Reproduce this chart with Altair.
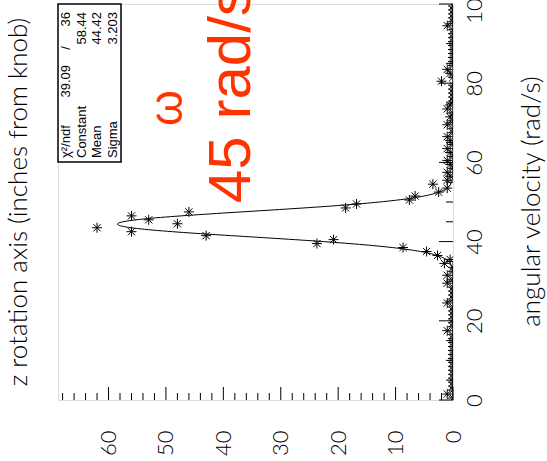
import altair as alt
import pandas as pd

# ---- data -----------------------------------------------------------------
# histogram bin centres (angular velocity, rad/s) and contents (inches from knob)
bin_centers = [i + 0.5 for i in range(100)]
bin_values = [
    0, 1, 0, 0, 0, 0, 0, 0, 0, 0,
    0, 0, 0, 0, 0, 0, 0, 1, 0, 0,
    0, 0, 0, 0, 1, 0, 0, 0, 0, 1,
    0, 1, 0, 0, 1.5, 0.5, 2.7, 4.6, 8.7, 23.7,
    20.8, 43, 56, 62, 48, 53, 56, 46, 18.7, 16.8,
    7.6, 6.6, 2.5, 1, 3.5, 1, 0.5, 1, 0, 0.5,
    1, 0, 0.5, 1, 0, 0.5, 1, 0, 0, 1,
    0, 0.5, 0, 1, 0.5, 0, 0, 0, 0, 0,
    2, 0, 0.5, 1, 0, 0, 0, 0, 0, 0,
    0, 0, 0, 0, 1, 0, 0, 0, 0, 0,
]

# gaussian fit parameters shown in the stats box
fit_const, fit_mean, fit_sigma = 58.44, 44.42, 3.203
stat_labels = ["\u03c7\u00b2/ndf", "Constant", "Mean", "Sigma"]
stat_values = ["39.09", "58.44", "44.42", "3.203"]
chi2_ndf = "36"

count_ticks_major = [0, 10, 20, 30, 40, 50, 60]
count_ticks_minor = [v for v in range(0, 69, 2) if v % 10]
vel_ticks_major = [0, 20, 40, 60, 80, 100]
vel_ticks_minor = [v for v in range(0, 101, 5) if v % 20]

title_text = "z rotation axis (inches from knob)"
xaxis_title = "angular velocity (rad/s)"
omega_text = "\u03c9"
speed_text = "45 rad/s"

# ---- chart ------------------------------------------------------------------
W, H = 395, 396
FONT = "Lato"
FW = 300
SFONT = "Liberation Sans"
RED = "#ff3300"

xscale = alt.Scale(domain=[0, 68.8], reverse=True, nice=False, zero=False)
yscale = alt.Scale(domain=[0, 100], nice=False, zero=False)

xaxis = alt.Axis(
    orient="bottom", ticks=False, tickSize=0, domain=False, grid=False,
    values=count_ticks_major, labelAngle=270, labelAlign="right",
    labelBaseline="middle", labelPadding=30, labelFontSize=22,
    labelFont=FONT, labelFontWeight=FW, labelColor="black", labelFlush=False,
    labelOverlap=False, title=None)
yaxis = alt.Axis(
    orient="right", ticks=False, tickSize=0, domain=False, grid=False,
    values=vel_ticks_major, labelAngle=270, labelAlign="center",
    labelBaseline="top", labelPadding=11, labelFontSize=22,
    labelFont=FONT, labelFontWeight=FW, labelColor="black", labelFlush=False,
    labelOverlap=False, title=xaxis_title, titleAngle=270,
    titleX=78, titleY=197, titleAlign="center", titleBaseline="middle",
    titleFont=FONT, titleFontSize=26, titleFontWeight=FW,
    titleColor="black")

df = pd.DataFrame({"v": bin_centers, "c": bin_values})

star = "M-1,0L1,0M0,-1L0,1M-0.72,-0.72L0.72,0.72M-0.72,0.72L0.72,-0.72"

points = alt.Chart(df).mark_point(
    shape=star, filled=False, stroke="black", strokeWidth=1, size=100,
    opacity=1, clip=True
).encode(
    x=alt.X("c:Q", scale=xscale, axis=xaxis),
    y=alt.Y("v:Q", scale=yscale, axis=yaxis),
)

fit = alt.Chart(alt.sequence(0, 100.05, 0.1, as_="v")).transform_calculate(
    c=f"{fit_const}*exp(-0.5*pow((datum.v-{fit_mean})/{fit_sigma},2))"
).mark_line(color="black", strokeWidth=1, clip=True).encode(
    x=alt.X("c:Q", scale=xscale, axis=xaxis),
    y=alt.Y("v:Q", scale=yscale, axis=yaxis),
    order="v:Q",
)

dummy = pd.DataFrame({"k": [0]})

def tick_layer(vals, horizontal, length):
    d = pd.DataFrame({"c": vals, "v": vals})
    if horizontal:
        return alt.Chart(d).mark_rule(color="black", strokeWidth=1).encode(
            x=alt.X("c:Q", scale=xscale, axis=xaxis),
            y=alt.value(H), y2=alt.value(H - length))
    return alt.Chart(d).mark_rule(color="black", strokeWidth=1).encode(
        y=alt.Y("v:Q", scale=yscale, axis=yaxis),
        x=alt.value(W), x2=alt.value(W - length))

ticks = [
    tick_layer(count_ticks_major, True, 13),
    tick_layer(count_ticks_minor, True, 7),
    tick_layer(vel_ticks_major, False, 14),
    tick_layer(vel_ticks_minor, False, 7),
]

box = alt.Chart(dummy).mark_rect(fill="white", stroke="black", strokeWidth=1.5).encode(
    x=alt.value(0), x2=alt.value(63), y=alt.value(0), y2=alt.value(158))

def stat_text(txt, xx, yy, align):
    return alt.Chart(dummy).mark_text(
        text=txt, angle=270, align=align, baseline="middle", font=SFONT,
        fontSize=13, color="black").encode(x=alt.value(xx), y=alt.value(yy))

stats = []
for i, (lab, val) in enumerate(zip(stat_labels, stat_values)):
    xx = 8 + 15.5 * i
    stats.append(stat_text(lab, xx, 154, "left"))
    stats.append(stat_text(val, xx, 61 if i == 0 else 8, "right"))
stats.append(stat_text("/", 8, 44, "center"))
stats.append(stat_text(chi2_ndf, 8, 8, "right"))

omega = alt.Chart(dummy).mark_text(
    text=omega_text, angle=270, align="center", baseline="middle", font=SFONT,
    fontSize=46, color=RED).encode(x=alt.value(110), y=alt.value(104))
speed = alt.Chart(dummy).mark_text(
    text=speed_text, angle=270, align="left", baseline="alphabetic", font=SFONT,
    fontSize=60, color=RED).encode(x=alt.value(192), y=alt.value(199))

chart = alt.layer(points, fit, *ticks, box, *stats, omega, speed).properties(
    width=W, height=H,
    title=alt.TitleParams(title_text, orient="left", anchor="middle", angle=270,
                          font=FONT, fontSize=26, fontWeight=FW,
                          color="black", offset=25),
    autosize=alt.AutoSizeParams(type="none"),
    padding={"left": 58, "top": 4, "right": 94, "bottom": 61},
).configure_view(stroke="black", strokeWidth=1.5).configure(background="white")

chart.save("out.html", embed_options={"renderer": "svg", "actions": False})
